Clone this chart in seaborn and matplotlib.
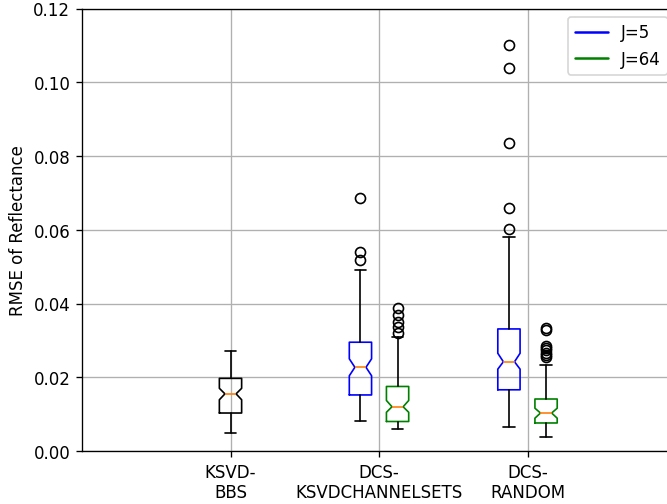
import matplotlib
matplotlib.use("Agg")
import matplotlib.pyplot as plt
from matplotlib.lines import Line2D
import seaborn as sns

# Reconstruction error summaries per dictionary method and number of channels J
methods = ["KSVD-\nBBS", "DCS-\nKSVDCHANNELSETS", "DCS-\nRANDOM"]

# KSVD-BBS (single box)
bbs_med, bbs_q1, bbs_q3 = 0.0155, 0.0103, 0.0197
bbs_lo, bbs_hi = 0.0049, 0.0270
bbs_ci = (0.0139, 0.0170)
bbs_fliers = []

# J=5 boxes for DCS-KSVDCHANNELSETS and DCS-RANDOM
j5_med = [0.0227, 0.0242]
j5_q1 = [0.0152, 0.0166]
j5_q3 = [0.0295, 0.0331]
j5_lo = [0.0082, 0.0066]
j5_hi = [0.0490, 0.0579]
j5_cilo = [0.0204, 0.0222]
j5_cihi = [0.0250, 0.0265]
j5_fliers = [
    [0.0687, 0.0540, 0.0518],
    [0.1102, 0.1039, 0.0836, 0.0660, 0.0601],
]

# J=64 boxes for DCS-KSVDCHANNELSETS and DCS-RANDOM
j64_med = [0.0120, 0.0103]
j64_q1 = [0.0080, 0.0076]
j64_q3 = [0.0175, 0.0141]
j64_lo = [0.0060, 0.0038]
j64_hi = [0.0308, 0.0233]
j64_cilo = [0.0105, 0.0089]
j64_cihi = [0.0137, 0.0116]
j64_fliers = [
    [0.0389, 0.0369, 0.0351, 0.0335, 0.0320],
    [0.0334, 0.0328, 0.0286, 0.0280, 0.0274, 0.0266, 0.0260, 0.0254],
]

legend_labels = ["J=5", "J=64"]
y_ticks = [0.00, 0.02, 0.04, 0.06, 0.08, 0.10, 0.12]

sns.set_theme(style="ticks", rc={
    "axes.edgecolor": "black",
    "axes.linewidth": 0.8,
    "axes.grid": True,
    "grid.color": "#b0b0b0",
    "grid.linewidth": 0.8,
    "grid.linestyle": "-",
    "xtick.color": "black",
    "ytick.color": "black",
    "xtick.major.size": 3.5,
    "ytick.major.size": 3.5,
    "xtick.major.width": 0.8,
    "ytick.major.width": 0.8,
    "font.size": 10,
    "axes.labelsize": 10,
    "xtick.labelsize": 10,
    "ytick.labelsize": 10,
    "legend.fontsize": 10,
    "lines.linewidth": 1.5,
    "text.color": "black",
    "axes.labelcolor": "black",
})
plt.rcParams["font.family"] = ["DejaVu Sans"]

DPI = 120
fig = plt.figure(figsize=(667 / DPI, 505 / DPI), dpi=DPI)
ax = fig.add_axes([82 / 667, (505 - 452) / 505, 594 / 667, (452 - 9.5) / 505])
ax.spines["right"].set_visible(False)


def make_stats(med, q1, q3, lo, hi, cilo, cihi, fliers):
    return dict(med=med, q1=q1, q3=q3, whislo=lo, whishi=hi,
                cilo=cilo, cihi=cihi, fliers=fliers)


def draw(stats, positions, color):
    ax.bxp(stats, positions=positions, widths=0.15, shownotches=True,
           manage_ticks=False,
           boxprops=dict(color=color, linewidth=1.0),
           whiskerprops=dict(color="black", linewidth=1.0),
           capprops=dict(color="black", linewidth=1.0),
           medianprops=dict(color="#ff7f0e", linewidth=1.0),
           flierprops=dict(marker="o", markerfacecolor="none",
                           markeredgecolor="black", markersize=6,
                           markeredgewidth=1.0))


draw([make_stats(bbs_med, bbs_q1, bbs_q3, bbs_lo, bbs_hi,
                 bbs_ci[0], bbs_ci[1], bbs_fliers)], [1], "black")

j5_stats = [make_stats(*v) for v in zip(j5_med, j5_q1, j5_q3, j5_lo, j5_hi,
                                       j5_cilo, j5_cihi, j5_fliers)]
j64_stats = [make_stats(*v) for v in zip(j64_med, j64_q1, j64_q3, j64_lo, j64_hi,
                                        j64_cilo, j64_cihi, j64_fliers)]
draw(j5_stats, [2 - 0.125, 3 - 0.125], "blue")
draw(j64_stats, [2 + 0.125, 3 + 0.125], "green")

ax.set_xlim(0, 4)
ax.set_ylim(0, 0.12)
ax.set_xticks([1, 2, 3])
ax.set_xticklabels(methods)
ax.set_yticks(y_ticks)
ax.set_yticklabels([f"{t:.2f}" for t in y_ticks])
ax.set_ylabel("RMSE of Reflectance")
ax.grid(True)
ax.set_axisbelow(True)

handles = [Line2D([], [], color="blue", linewidth=1.5),
           Line2D([], [], color="green", linewidth=1.5)]
ax.legend(handles, legend_labels, loc="upper right", frameon=True,
          fancybox=True, framealpha=0.8, edgecolor="0.8")

fig.savefig("out.png", dpi=DPI)
